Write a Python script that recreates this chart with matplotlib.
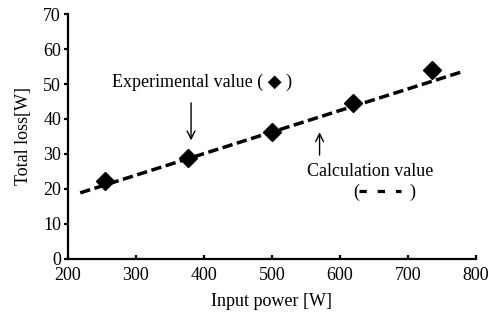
import matplotlib
matplotlib.use('Agg')
from matplotlib import pyplot as plt
from matplotlib.lines import Line2D

# Measured losses and the calculated line
p_meas = [255, 376, 500, 619, 735]
loss_meas = [22.3, 28.9, 36.3, 44.6, 54.0]
p_calc = [218, 778]
loss_calc = [18.9, 53.4]

x_ticks = [200, 300, 400, 500, 600, 700, 800]
y_ticks = [0, 10, 20, 30, 40, 50, 60, 70]

plt.rcParams['font.family'] = ['Liberation Serif', 'DejaVu Sans']
plt.rcParams['font.size'] = 13

fig = plt.figure(figsize=(5.01, 3.22), dpi=100)
axe = fig.add_axes([0.1357, 0.1957, 0.8143, 0.7608])

calc_style = dict(ls=(0, (3.0, 1.3)), lw=2.5, c='black', dash_capstyle='butt')
axe.plot(p_calc, loss_calc, **calc_style)
axe.plot(p_meas, loss_meas, ls='', marker='D', ms=9, c='black')

axe.set_xlim(200, 800)
axe.set_ylim(0, 70)
axe.set_xticks(x_ticks)
axe.set_yticks(y_ticks)
axe.spines['top'].set_visible(False)
axe.spines['right'].set_visible(False)
for s in ('left', 'bottom'):
    axe.spines[s].set_linewidth(1.6)
axe.tick_params(axis='x', direction='in', length=3, width=1.6, pad=6)
axe.tick_params(axis='y', direction='out', length=3, width=1.6, pad=2)

axe.set_xlabel('Input power [W]', labelpad=6)
axe.set_ylabel('Total loss[W]', labelpad=8)

# Annotations
axe.annotate('', xy=(381, 33.1), xytext=(381, 45.4),
             arrowprops=dict(arrowstyle='->', lw=1.0, color='black',
                             mutation_scale=14))
axe.text(265, 50.6, 'Experimental value ( \u25c6 )', ha='left', va='center')
axe.annotate('', xy=(570, 37.0), xytext=(570, 28.9),
             arrowprops=dict(arrowstyle='->', lw=1.0, color='black',
                             mutation_scale=14))
axe.text(644, 24.9, 'Calculation value', ha='center', va='center')

# small key for the calculated line: ( - - - )
axe.text(624, 18.9, '(', ha='center', va='center')
axe.text(706, 18.9, ')', ha='center', va='center')
axe.add_line(Line2D([628, 690], [19.4, 19.4], ls=(0, (2.3, 3.4)), lw=2.3,
                    c='black', dash_capstyle='butt'))

fig.savefig('out.png', dpi=100)
